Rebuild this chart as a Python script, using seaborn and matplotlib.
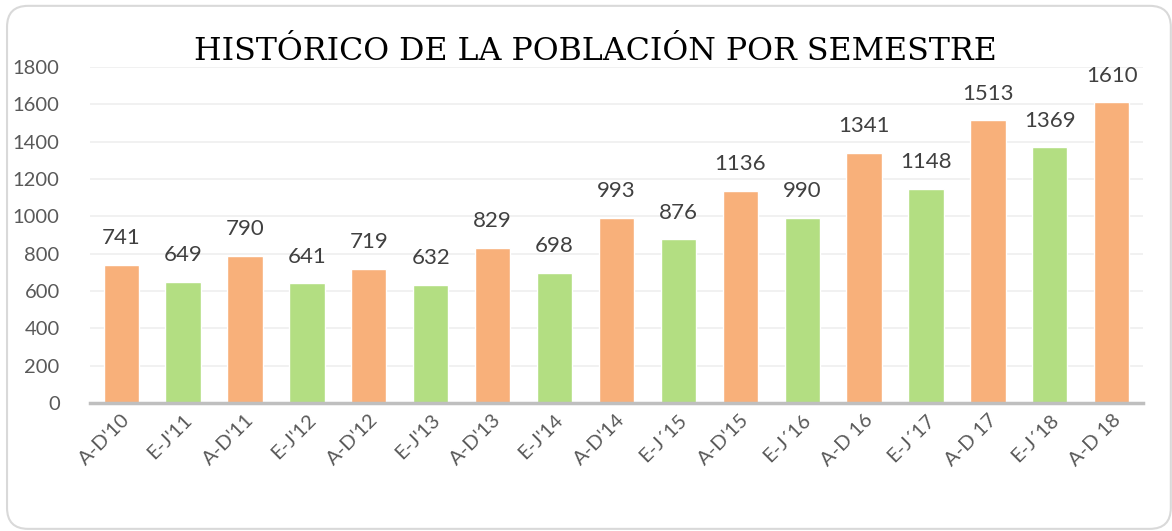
import matplotlib
matplotlib.use("Agg")
import matplotlib.pyplot as plt
from matplotlib.patches import FancyBboxPatch
import seaborn as sns
import pandas as pd

# datos
semestres = ["A-D'10", "E-J'11", "A-D'11", "E-J'12", "A-D'12", "E-J'13", "A-D'13", "E-J'14",
             "A-D'14", "E-J\u00b415", "A-D'15", "E-J\u00b416", "A-D 16", "E-J\u00b417", "A-D 17",
             "E-J\u00b418", "A-D 18"]
poblacion = [741, 649, 790, 641, 719, 632, 829, 698, 993, 876, 1136, 990, 1341, 1148, 1513, 1369, 1610]

naranja = "#F8B07A"
verde = "#B3DE82"
colores = [naranja if s.startswith("A") else verde for s in semestres]

df = pd.DataFrame({"semestre": semestres, "poblacion": poblacion})

sns.set_theme(style="white")
plt.rcParams['font.family'] = ['Lato', 'DejaVu Sans']

fig = plt.figure(figsize=(11.72, 5.31), dpi=100)
ax = fig.add_axes([0.077, 0.241, 0.898, 0.633])

sns.barplot(data=df, x="semestre", y="poblacion", hue="semestre", palette=colores,
            legend=False, width=0.57, saturation=1, ax=ax)

ax.set_ylim(0, 1800)
ax.set_yticks(range(0, 1801, 200))
ax.set_xlim(-0.5, len(semestres) - 0.5)
ax.yaxis.grid(True, color="#EFEFEF", linewidth=1.2)
ax.set_axisbelow(True)
for s in ["top", "right", "left"]:
    ax.spines[s].set_visible(False)
ax.spines["bottom"].set_color("#BFBFBF")
ax.spines["bottom"].set_linewidth(2.5)
ax.set_xlabel("")
ax.set_ylabel("")
ax.tick_params(axis="y", labelsize=14.5, colors="#595959", length=0, pad=22)
ax.tick_params(axis="x", labelsize=14.5, colors="#595959", length=0, pad=6)
for lab in ax.get_xticklabels():
    lab.set_rotation(45)
    lab.set_ha("right")
    lab.set_rotation_mode("anchor")

# etiquetas de valor
for i, v in enumerate(poblacion):
    ax.text(i, v + 90, str(v), ha="center", va="bottom", fontsize=16, color="#404040")

fig.text(0.508, 0.887, "HISTÓRICO DE LA POBLACIÓN POR SEMESTRE", ha="center", va="baseline",
         fontsize=22.8, family="DejaVu Serif", color="#000000")

# borde redondeado
borde = FancyBboxPatch((0.006, 0.004), 0.993, 0.985, boxstyle="round,pad=0,rounding_size=0.018",
                       transform=fig.transFigure, facecolor="none", edgecolor="#D9D9D9",
                       linewidth=1.5, mutation_aspect=1172 / 531)
fig.patches.append(borde)

fig.savefig("out.png", dpi=100)
